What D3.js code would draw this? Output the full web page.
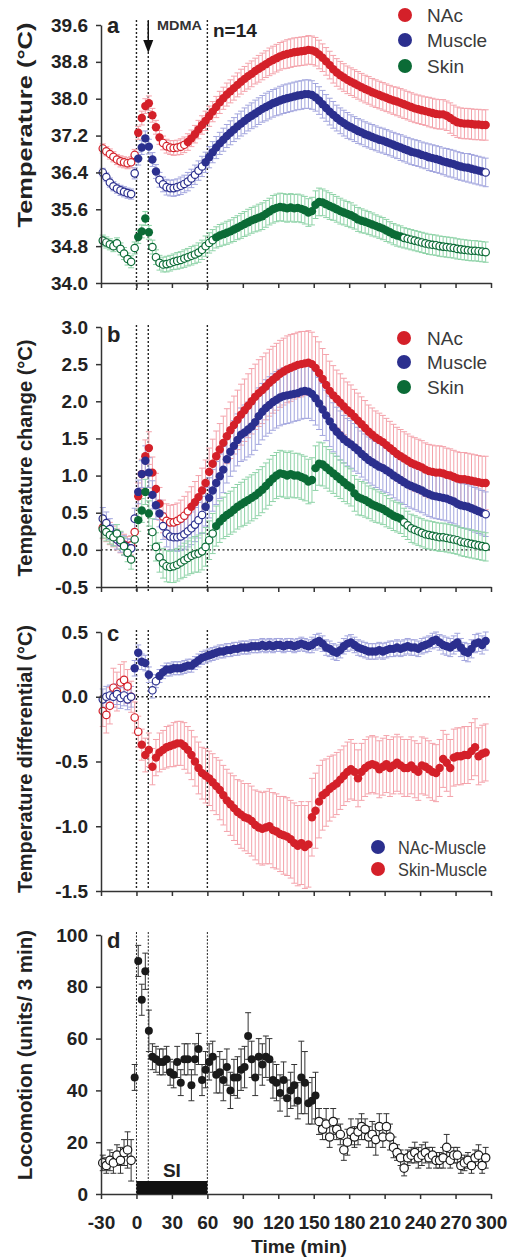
<!DOCTYPE html>
<html><head><meta charset="utf-8">
<script src="https://cdn.jsdelivr.net/npm/d3@7"></script>
<style>body{margin:0;background:#fff}svg{display:block}</style>
</head><body>
<svg id="chart" width="510" height="1258"></svg>
<script>
// ---------- DATA ----------
const time = [-28.5,-25.5,-22.5,-19.5,-16.5,-13.5,-10.5,-7.5,-4.5,-1.5,
1.5,4.5,7.5,10.5,13.5,16.5,19.5,22.5,25.5,28.5,
31.5,34.5,37.5,40.5,43.5,46.5,49.5,52.5,55.5,58.5,
61.5,64.5,67.5,70.5,73.5,76.5,79.5,82.5,85.5,88.5,
91.5,94.5,97.5,100.5,103.5,106.5,109.5,112.5,115.5,118.5,
121.5,124.5,127.5,130.5,133.5,136.5,139.5,142.5,145.5,148.5,
151.5,154.5,157.5,160.5,163.5,166.5,169.5,172.5,175.5,178.5,
181.5,184.5,187.5,190.5,193.5,196.5,199.5,202.5,205.5,208.5,
211.5,214.5,217.5,220.5,223.5,226.5,229.5,232.5,235.5,238.5,
241.5,244.5,247.5,250.5,253.5,256.5,259.5,262.5,265.5,268.5,
271.5,274.5,277.5,280.5,283.5,286.5,289.5,292.5,295.5];

const xTicks = [-30,0,30,60,90,120,150,180,210,240,270,300];
const eventTimes = [0, 10, 60];
const mdmaTime = 10;
const siPeriod = [0, 60];

// Panel a: absolute temperature
const aTicks = [34.0,34.8,35.6,36.4,37.2,38.0,38.8,39.6];
const aNAc = [36.92,36.86,36.80,36.74,36.68,36.64,36.62,36.60,36.62,36.78,
37.26,37.58,37.84,37.90,37.64,37.38,37.16,37.04,36.97,36.94,
36.93,36.94,36.96,37.00,37.06,37.14,37.23,37.33,37.43,37.52,
37.62,37.72,37.82,37.92,38.01,38.09,38.16,38.23,38.30,38.37,
38.43,38.49,38.54,38.60,38.65,38.70,38.75,38.80,38.84,38.88,
38.92,38.95,38.97,38.99,39.01,39.02,39.03,39.04,39.06,39.05,
39.02,38.96,38.89,38.81,38.73,38.64,38.57,38.51,38.46,38.41,
38.37,38.33,38.29,38.25,38.21,38.18,38.14,38.11,38.08,38.05,
38.02,37.99,37.96,37.94,37.91,37.88,37.85,37.82,37.79,37.77,
37.75,37.73,37.71,37.69,37.67,37.66,37.66,37.63,37.58,37.53,
37.49,37.47,37.46,37.46,37.45,37.44,37.44,37.43,37.43];
const aNAcErr = [0.10,0.10,0.11,0.11,0.11,0.12,0.12,0.12,0.12,0.12,
0.14,0.15,0.16,0.16,0.15,0.15,0.15,0.15,0.15,0.15,
0.16,0.16,0.17,0.17,0.18,0.18,0.19,0.20,0.20,0.21,
0.22,0.22,0.23,0.24,0.24,0.25,0.25,0.26,0.26,0.27,
0.27,0.28,0.28,0.28,0.29,0.29,0.29,0.30,0.30,0.30,
0.30,0.30,0.31,0.31,0.31,0.31,0.31,0.31,0.31,0.31,
0.31,0.31,0.30,0.30,0.30,0.30,0.30,0.30,0.30,0.30,
0.30,0.30,0.30,0.30,0.30,0.30,0.30,0.30,0.30,0.30,
0.30,0.30,0.30,0.31,0.31,0.31,0.31,0.31,0.31,0.31,
0.31,0.31,0.32,0.32,0.32,0.32,0.32,0.32,0.33,0.33,
0.33,0.33,0.33,0.33,0.33,0.33,0.33,0.33,0.33];
const aNAcFilled = [[0,21],[42,300]];

const aMuscle = [36.40,36.30,36.18,36.10,36.05,36.01,35.98,35.95,35.93,36.38,
36.70,36.94,37.14,36.96,36.68,36.42,36.24,36.14,36.08,36.06,
36.06,36.08,36.11,36.15,36.20,36.27,36.35,36.44,36.53,36.62,
36.73,36.84,36.94,37.03,37.11,37.19,37.26,37.33,37.40,37.46,
37.52,37.58,37.63,37.68,37.73,37.78,37.82,37.86,37.90,37.93,
37.96,37.99,38.01,38.03,38.05,38.07,38.08,38.10,38.10,38.08,
38.03,37.96,37.88,37.80,37.72,37.65,37.58,37.52,37.47,37.42,
37.38,37.34,37.30,37.27,37.23,37.20,37.17,37.14,37.11,37.09,
37.06,37.03,37.00,36.97,36.94,36.91,36.88,36.85,36.83,36.81,
36.78,36.76,36.73,36.71,36.69,36.67,36.64,36.62,36.60,36.58,
36.55,36.53,36.51,36.50,36.48,36.46,36.44,36.42,36.40];
const aMuscleErr = [0.09,0.09,0.10,0.10,0.10,0.11,0.11,0.11,0.11,0.12,
0.14,0.15,0.16,0.16,0.15,0.15,0.16,0.16,0.17,0.17,
0.18,0.18,0.19,0.19,0.20,0.20,0.21,0.21,0.22,0.22,
0.23,0.23,0.24,0.24,0.25,0.25,0.26,0.26,0.27,0.27,
0.28,0.28,0.28,0.29,0.29,0.29,0.30,0.30,0.30,0.30,
0.31,0.31,0.31,0.31,0.31,0.31,0.31,0.31,0.31,0.31,
0.30,0.30,0.30,0.29,0.29,0.29,0.28,0.28,0.28,0.28,
0.27,0.27,0.27,0.27,0.27,0.27,0.27,0.27,0.27,0.27,
0.27,0.27,0.27,0.27,0.28,0.28,0.28,0.28,0.28,0.28,
0.28,0.28,0.29,0.29,0.29,0.29,0.29,0.30,0.30,0.30,
0.30,0.30,0.30,0.31,0.31,0.31,0.31,0.31,0.31];
const aMuscleFilled = [[0,17],[57,294]];

const aSkin = [34.92,34.88,34.84,34.80,34.86,34.74,34.64,34.52,34.46,34.76,
35.00,35.12,35.40,35.10,34.78,34.56,34.44,34.40,34.41,34.43,
34.46,34.48,34.50,34.53,34.56,34.59,34.62,34.66,34.72,34.80,
34.87,34.93,34.99,35.03,35.06,35.09,35.12,35.16,35.20,35.24,
35.28,35.32,35.36,35.39,35.42,35.45,35.50,35.55,35.60,35.63,
35.65,35.64,35.62,35.64,35.62,35.63,35.61,35.58,35.53,35.56,
35.70,35.76,35.75,35.71,35.67,35.64,35.60,35.56,35.53,35.50,
35.47,35.43,35.38,35.35,35.33,35.30,35.27,35.24,35.21,35.18,
35.14,35.10,35.06,35.03,35.01,34.98,34.96,34.94,34.92,34.90,
34.88,34.86,34.84,34.83,34.82,34.80,34.79,34.78,34.77,34.76,
34.74,34.73,34.72,34.71,34.70,34.70,34.69,34.68,34.67];
const aSkinErr = [0.12,0.12,0.12,0.12,0.12,0.13,0.13,0.13,0.13,0.13,
0.14,0.14,0.15,0.15,0.15,0.16,0.16,0.16,0.17,0.17,
0.17,0.18,0.18,0.19,0.19,0.20,0.20,0.21,0.21,0.22,
0.22,0.23,0.23,0.24,0.24,0.25,0.25,0.26,0.26,0.27,
0.27,0.28,0.28,0.28,0.29,0.29,0.29,0.29,0.30,0.30,
0.30,0.30,0.30,0.30,0.30,0.30,0.30,0.30,0.30,0.30,
0.30,0.30,0.29,0.29,0.29,0.28,0.28,0.28,0.27,0.27,
0.27,0.26,0.26,0.26,0.25,0.25,0.25,0.24,0.24,0.24,
0.24,0.23,0.23,0.23,0.23,0.22,0.22,0.22,0.22,0.22,
0.22,0.22,0.22,0.22,0.22,0.22,0.22,0.22,0.22,0.22,
0.22,0.22,0.22,0.22,0.22,0.22,0.22,0.22,0.22];
const aSkinFilled = [[0,12],[66,225]];

// Panel b: temperature change
const bTicks = [-0.5,0.0,0.5,1.0,1.5,2.0,2.5,3.0];
const bNAc = [0.30,0.26,0.22,0.18,0.14,0.10,0.07,0.05,0.06,0.24,
0.72,1.02,1.26,1.37,1.04,0.82,0.62,0.45,0.39,0.37,
0.37,0.39,0.42,0.46,0.52,0.58,0.64,0.71,0.80,0.90,
1.05,1.16,1.26,1.35,1.44,1.53,1.61,1.68,1.75,1.82,
1.88,1.94,2.00,2.06,2.11,2.15,2.20,2.25,2.29,2.33,
2.37,2.40,2.43,2.45,2.47,2.49,2.50,2.51,2.52,2.50,
2.45,2.38,2.30,2.22,2.14,2.08,2.03,1.98,1.93,1.88,
1.84,1.79,1.74,1.69,1.64,1.59,1.55,1.51,1.48,1.45,
1.41,1.37,1.33,1.29,1.26,1.23,1.20,1.17,1.15,1.13,
1.11,1.08,1.06,1.05,1.04,1.04,1.03,1.01,1.00,0.98,
0.96,0.95,0.95,0.94,0.93,0.92,0.91,0.90,0.90];
const bNAcErr = [0.15,0.15,0.15,0.14,0.14,0.14,0.14,0.13,0.13,0.14,
0.18,0.20,0.22,0.22,0.21,0.21,0.22,0.22,0.23,0.23,
0.24,0.24,0.25,0.26,0.26,0.27,0.28,0.29,0.30,0.31,
0.32,0.33,0.34,0.35,0.36,0.37,0.38,0.39,0.40,0.41,
0.42,0.43,0.44,0.44,0.45,0.45,0.45,0.45,0.45,0.45,
0.45,0.45,0.45,0.45,0.44,0.44,0.44,0.43,0.43,0.43,
0.42,0.42,0.41,0.41,0.40,0.40,0.39,0.39,0.38,0.38,
0.38,0.37,0.37,0.37,0.37,0.36,0.36,0.36,0.36,0.36,
0.36,0.36,0.36,0.36,0.36,0.36,0.36,0.36,0.36,0.36,
0.36,0.36,0.36,0.36,0.36,0.36,0.36,0.36,0.36,0.36,
0.36,0.36,0.36,0.36,0.36,0.36,0.36,0.36,0.36];
const bNAcFilled = [[0,21],[45,300]];

const bMuscle = [0.42,0.36,0.28,0.20,0.14,0.10,0.06,0.03,0.02,0.42,
0.78,1.02,1.20,1.04,0.74,0.60,0.49,0.32,0.22,0.18,
0.17,0.17,0.18,0.21,0.25,0.29,0.34,0.40,0.47,0.58,
0.70,0.80,0.90,0.99,1.08,1.22,1.32,1.40,1.48,1.55,
1.58,1.62,1.66,1.72,1.80,1.86,1.91,1.95,1.99,2.02,
2.05,2.07,2.08,2.09,2.10,2.11,2.13,2.14,2.13,2.10,
2.04,1.97,1.89,1.81,1.73,1.65,1.59,1.54,1.49,1.45,
1.42,1.38,1.34,1.29,1.25,1.21,1.18,1.15,1.12,1.10,
1.07,1.04,1.00,0.97,0.94,0.91,0.88,0.86,0.84,0.82,
0.80,0.77,0.75,0.73,0.72,0.71,0.70,0.69,0.67,0.65,
0.62,0.60,0.59,0.58,0.56,0.54,0.52,0.50,0.48];
const bMuscleErr = [0.15,0.15,0.14,0.14,0.13,0.13,0.13,0.12,0.12,0.14,
0.16,0.18,0.20,0.20,0.19,0.19,0.18,0.18,0.18,0.18,
0.18,0.19,0.19,0.20,0.21,0.22,0.23,0.24,0.25,0.26,
0.27,0.28,0.29,0.30,0.31,0.32,0.33,0.34,0.35,0.36,
0.37,0.37,0.38,0.38,0.38,0.38,0.38,0.38,0.38,0.38,
0.38,0.38,0.38,0.38,0.37,0.37,0.37,0.37,0.36,0.36,
0.36,0.35,0.35,0.34,0.34,0.33,0.33,0.33,0.32,0.32,
0.32,0.32,0.31,0.31,0.31,0.31,0.31,0.31,0.31,0.31,
0.30,0.30,0.30,0.30,0.30,0.30,0.30,0.30,0.30,0.30,
0.30,0.30,0.30,0.30,0.30,0.30,0.30,0.30,0.30,0.30,
0.30,0.30,0.30,0.30,0.30,0.30,0.30,0.30,0.30];
const bMuscleFilled = [[0,21],[57,294]];

const bSkin = [0.28,0.24,0.20,0.17,0.22,0.13,0.05,-0.04,-0.13,0.14,
0.40,0.53,0.78,0.49,0.24,0.04,-0.10,-0.18,-0.22,-0.23,
-0.22,-0.20,-0.17,-0.14,-0.11,-0.08,-0.06,-0.05,-0.02,0.04,
0.13,0.22,0.32,0.38,0.43,0.47,0.50,0.54,0.58,0.61,
0.64,0.67,0.70,0.73,0.77,0.81,0.86,0.91,0.96,1.00,
1.03,1.02,1.00,1.02,1.00,1.00,0.98,0.96,0.92,0.94,
1.10,1.16,1.15,1.11,1.07,1.03,0.99,0.95,0.91,0.87,
0.84,0.76,0.71,0.69,0.67,0.64,0.61,0.59,0.57,0.55,
0.52,0.49,0.46,0.44,0.42,0.37,0.33,0.29,0.27,0.25,
0.23,0.21,0.20,0.19,0.18,0.17,0.17,0.16,0.15,0.14,
0.13,0.11,0.10,0.09,0.08,0.07,0.06,0.05,0.04];
const bSkinErr = [0.12,0.12,0.12,0.12,0.12,0.12,0.12,0.12,0.13,0.13,
0.15,0.16,0.17,0.17,0.18,0.19,0.20,0.20,0.21,0.21,
0.22,0.22,0.22,0.23,0.23,0.24,0.24,0.25,0.25,0.26,
0.26,0.27,0.27,0.28,0.28,0.29,0.29,0.30,0.30,0.30,
0.31,0.31,0.31,0.31,0.31,0.31,0.31,0.31,0.31,0.31,
0.31,0.31,0.31,0.31,0.30,0.30,0.30,0.30,0.30,0.30,
0.30,0.29,0.29,0.28,0.28,0.27,0.27,0.26,0.26,0.25,
0.25,0.24,0.24,0.23,0.23,0.22,0.22,0.22,0.21,0.21,
0.21,0.20,0.20,0.20,0.20,0.19,0.19,0.19,0.19,0.19,
0.19,0.19,0.19,0.19,0.19,0.19,0.19,0.19,0.19,0.19,
0.19,0.19,0.19,0.19,0.19,0.19,0.19,0.19,0.19];
const bSkinFilled = [[0,12],[66,225]];

// Panel c: temperature differentials
const cTicks = [-1.5,-1.0,-0.5,0.0,0.5];
const cNAcMuscle = [-0.02,0.00,0.01,0.00,0.02,-0.01,0.01,-0.02,0.00,0.22,
0.34,0.27,0.26,0.17,0.05,0.12,0.16,0.19,0.21,0.21,
0.22,0.22,0.22,0.23,0.24,0.24,0.26,0.28,0.30,0.31,
0.32,0.33,0.34,0.35,0.35,0.36,0.36,0.37,0.37,0.38,
0.38,0.38,0.39,0.39,0.39,0.40,0.39,0.40,0.39,0.40,
0.40,0.39,0.40,0.40,0.39,0.40,0.41,0.40,0.39,0.40,
0.42,0.43,0.41,0.38,0.37,0.35,0.34,0.36,0.39,0.41,
0.42,0.40,0.38,0.37,0.36,0.35,0.35,0.35,0.36,0.35,
0.36,0.37,0.37,0.38,0.37,0.38,0.39,0.38,0.38,0.37,
0.39,0.40,0.41,0.43,0.44,0.42,0.40,0.39,0.38,0.40,
0.42,0.38,0.35,0.34,0.37,0.41,0.42,0.40,0.43];
const cNAcMuscleErr = [0.08,0.08,0.08,0.08,0.08,0.08,0.08,0.08,0.08,0.06,
0.06,0.06,0.06,0.06,0.06,0.05,0.05,0.05,0.05,0.05,
0.05,0.05,0.05,0.05,0.05,0.05,0.05,0.05,0.05,0.05,
0.05,0.05,0.05,0.05,0.05,0.05,0.05,0.05,0.05,0.05,
0.05,0.05,0.05,0.05,0.05,0.05,0.05,0.05,0.05,0.05,
0.05,0.05,0.05,0.05,0.05,0.05,0.05,0.05,0.05,0.06,
0.06,0.06,0.06,0.06,0.06,0.06,0.06,0.06,0.06,0.06,
0.06,0.06,0.06,0.06,0.06,0.06,0.06,0.06,0.06,0.06,
0.06,0.06,0.06,0.06,0.06,0.06,0.06,0.06,0.06,0.06,
0.06,0.06,0.06,0.06,0.06,0.06,0.07,0.07,0.07,0.07,
0.07,0.07,0.07,0.07,0.07,0.07,0.07,0.07,0.07];
const cNAcMuscleFilled = [[-3,12],[18,300]];

const cSkinMuscle = [-0.11,-0.14,-0.07,0.07,0.04,0.11,0.13,0.08,0.00,-0.16,
-0.27,-0.37,-0.45,-0.41,-0.54,-0.47,-0.43,-0.41,-0.39,-0.38,
-0.37,-0.36,-0.36,-0.38,-0.41,-0.45,-0.50,-0.55,-0.59,-0.61,
-0.63,-0.66,-0.69,-0.72,-0.76,-0.80,-0.83,-0.86,-0.89,-0.91,
-0.93,-0.94,-0.96,-0.99,-1.01,-1.02,-1.01,-1.00,-1.03,-1.04,
-1.06,-1.07,-1.08,-1.10,-1.13,-1.15,-1.13,-1.16,-1.14,-0.93,
-0.88,-0.81,-0.76,-0.74,-0.71,-0.69,-0.67,-0.64,-0.61,-0.58,
-0.56,-0.58,-0.63,-0.58,-0.55,-0.53,-0.52,-0.53,-0.56,-0.54,
-0.52,-0.55,-0.53,-0.51,-0.53,-0.55,-0.55,-0.53,-0.56,-0.58,
-0.53,-0.54,-0.56,-0.58,-0.59,-0.55,-0.48,-0.51,-0.55,-0.47,
-0.46,-0.46,-0.45,-0.45,-0.42,-0.39,-0.46,-0.44,-0.43];
const cSkinMuscleErr = [0.12,0.14,0.14,0.15,0.15,0.14,0.14,0.13,0.12,0.12,
0.12,0.12,0.13,0.13,0.14,0.14,0.15,0.15,0.16,0.16,
0.17,0.17,0.17,0.18,0.18,0.19,0.19,0.20,0.20,0.21,
0.21,0.22,0.22,0.23,0.23,0.24,0.24,0.25,0.25,0.26,
0.26,0.27,0.27,0.27,0.28,0.28,0.28,0.29,0.29,0.29,
0.29,0.30,0.30,0.30,0.31,0.31,0.32,0.32,0.33,0.30,
0.29,0.28,0.27,0.26,0.25,0.24,0.24,0.23,0.23,0.23,
0.23,0.22,0.22,0.22,0.22,0.22,0.22,0.22,0.22,0.22,
0.22,0.22,0.22,0.22,0.22,0.22,0.22,0.22,0.22,0.22,
0.22,0.22,0.22,0.22,0.22,0.22,0.22,0.22,0.22,0.22,
0.22,0.22,0.22,0.22,0.22,0.22,0.22,0.22,0.22];
const cSkinMuscleFilled = [[3,300]];

// Panel d: locomotion (units / 3 min)
const dTicks = [0,20,40,60,80,100];
const loco = [12,11,13,12,15,13,16,17,13,45,
90,75,86,63,53,52,51,51,52,47,
46,51,43,52,52,42,52,56,44,48,
51,53,46,47,44,49,40,45,45,48,
49,61,52,45,53,50,53,52,44,43,
39,44,37,40,42,36,45,43,35,36,
38,28,25,27,22,28,25,23,17,20,
24,22,24,26,25,22,23,21,26,22,
26,22,18,16,14,10,14,15,16,14,
15,16,14,15,13,13,14,18,13,15,
15,11,12,13,11,14,15,11,14];
const locoErr = [3,3,4,4,4,5,5,7,8,5,
6,6,7,8,5,5,5,5,5,5,
5,6,5,6,6,6,6,6,6,7,
7,6,7,8,8,7,7,7,8,8,
8,9,7,7,7,8,8,8,7,7,
7,7,7,7,8,7,14,12,8,9,
9,5,4,6,4,5,4,4,4,5,
5,4,5,5,4,4,5,6,5,4,
5,5,4,3,3,3,3,3,4,4,
4,4,4,3,3,3,4,5,3,3,
3,3,3,3,3,3,4,3,4];
const locoFilled = [[-3,153]];

// ---------- STYLE ----------
const RED = "#d42029", RED_L = "#f4a3ab";
const BLUE = "#2b2f8e", BLUE_L = "#a3a6de";
const GREEN = "#0b6b36", GREEN_L = "#8fd3a8";
const BLACK = "#1a1a1a", BLACK_L = "#333";
const FONT = "'Liberation Sans', Arial, Helvetica, sans-serif";

// hyphen-minus like the original figure
const f1 = v => d3.format(".1f")(v).replace("\u2212", "-");
const f0 = v => String(v);

const svg = d3.select("#chart");
const x = d3.scaleLinear().domain([-30, 300]).range([101, 491]);

const panels = [
  { label: "a", domain: [34, 39.6], range: [283, 25], ticks: aTicks, fmt: f1,
    title: "Temperature (°C)", titleY: 125, titleLen: 205, titleSize: 21, labelY: 33,
    vline: [20, 292], zero: false,
    series: [
      { v: aNAc, e: aNAcErr, f: aNAcFilled, c: RED, cl: RED_L },
      { v: aMuscle, e: aMuscleErr, f: aMuscleFilled, c: BLUE, cl: BLUE_L },
      { v: aSkin, e: aSkinErr, f: aSkinFilled, c: GREEN, cl: GREEN_L } ],
    legend: { cx: 405, cy: [15, 40, 66], tx: 427, names: ["NAc", "Muscle", "Skin"], cols: [RED, BLUE, GREEN], size: 19 } },
  { label: "b", domain: [-0.5, 3.0], range: [587, 327], ticks: bTicks, fmt: f1,
    title: "Temperature change (°C)", titleY: 458, titleLen: 237, titleSize: 20, labelY: 342,
    vline: [325, 592], zero: true,
    series: [
      { v: bNAc, e: bNAcErr, f: bNAcFilled, c: RED, cl: RED_L },
      { v: bMuscle, e: bMuscleErr, f: bMuscleFilled, c: BLUE, cl: BLUE_L },
      { v: bSkin, e: bSkinErr, f: bSkinFilled, c: GREEN, cl: GREEN_L } ],
    legend: { cx: 404, cy: [338, 362, 387], tx: 427, names: ["NAc", "Muscle", "Skin"], cols: [RED, BLUE, GREEN], size: 19 } },
  { label: "c", domain: [-1.5, 0.5], range: [891, 632], ticks: cTicks, fmt: f1,
    title: "Temperature differential (°C)", titleY: 759, titleLen: 268, titleSize: 20, labelY: 641,
    vline: [630, 888], zero: true,
    series: [
      { v: cSkinMuscle, e: cSkinMuscleErr, f: cSkinMuscleFilled, c: RED, cl: RED_L },
      { v: cNAcMuscle, e: cNAcMuscleErr, f: cNAcMuscleFilled, c: BLUE, cl: BLUE_L } ],
    legend: { cx: 378, cy: [847, 869], tx: 398, names: ["NAc-Muscle", "Skin-Muscle"], cols: [BLUE, RED], size: 18, lens: [88, 89] } },
  { label: "d", domain: [0, 100], range: [1194, 935], ticks: dTicks, fmt: f0,
    title: "Locomotion (units/ 3 min)", titleY: 1055, titleLen: 250, titleSize: 20, labelY: 948,
    vline: [932, 1194], zero: false, loco: true,
    series: [ { v: loco, e: locoErr, f: locoFilled, c: BLACK, cl: BLACK_L } ] }
];

const isFilled = (t, ranges) => ranges.some(([a, b]) => t >= a && t <= b);

panels.forEach(p => {
  const y = d3.scaleLinear().domain(p.domain).range(p.range);
  const g = svg.append("g");

  // event lines
  eventTimes.forEach(t => {
    g.append("line").attr("x1", x(t)).attr("x2", x(t))
      .attr("y1", p.vline[0]).attr("y2", p.vline[1])
      .attr("stroke", "#222").attr("stroke-width", p.loco ? 1 : 1.4)
      .attr("stroke-dasharray", p.loco ? "2,1.5" : "2,2");
  });
  if (p.zero) {
    g.append("line").attr("x1", x(-30)).attr("x2", x(300))
      .attr("y1", y(0)).attr("y2", y(0))
      .attr("stroke", "#222").attr("stroke-width", 1.4).attr("stroke-dasharray", "2,2.5");
  }

  // error bars
  const cap = 3;
  p.series.forEach(s => {
    const eg = g.append("g").attr("stroke", s.cl).attr("stroke-width", 1).attr("fill", "none");
    time.forEach((t, i) => {
      const cx = x(t), y1 = y(s.v[i] - s.e[i]), y2 = y(s.v[i] + s.e[i]);
      eg.append("line").attr("x1", cx).attr("x2", cx).attr("y1", y1).attr("y2", y2);
      eg.append("line").attr("x1", cx - cap).attr("x2", cx + cap).attr("y1", y1).attr("y2", y1);
      eg.append("line").attr("x1", cx - cap).attr("x2", cx + cap).attr("y1", y2).attr("y2", y2);
    });
  });

  // points
  p.series.forEach(s => {
    g.append("g").selectAll("circle").data(time).join("circle")
      .attr("cx", t => x(t)).attr("cy", (t, i) => y(s.v[i]))
      .attr("r", t => isFilled(t, s.f) ? (p.loco ? 4 : 4.2) : (p.loco ? 4.2 : 3.7))
      .attr("fill", t => isFilled(t, s.f) ? s.c : "#fff")
      .attr("stroke", s.c)
      .attr("stroke-width", t => isFilled(t, s.f) ? 0 : 1.2);
  });

  // axes
  const ya = g.append("g").attr("transform", `translate(${x(-30)},0)`)
    .call(d3.axisLeft(y).tickValues(p.ticks).tickFormat(p.fmt).tickSize(5).tickSizeOuter(0).tickPadding(8));
  const xa = g.append("g").attr("transform", `translate(0,${p.range[0]})`)
    .call(d3.axisBottom(x).tickValues(xTicks).tickFormat(p.loco ? f0 : "").tickSize(5).tickSizeOuter(0).tickPadding(17));
  [ya, xa].forEach(a => {
    a.select(".domain").attr("stroke", "#333").attr("stroke-width", 1.5);
    a.selectAll(".tick line").attr("stroke", "#333").attr("stroke-width", 1.5);
    a.selectAll("text").attr("font-family", FONT).attr("font-weight", "bold")
      .attr("font-size", 19).attr("fill", "#222");
  });

  // y title
  g.append("text").attr("transform", `translate(32,${p.titleY}) rotate(-90)`)
    .attr("text-anchor", "middle").attr("font-family", FONT).attr("font-weight", "bold")
    .attr("font-size", p.titleSize).attr("fill", "#222")
    .attr("textLength", p.titleLen).attr("lengthAdjust", "spacingAndGlyphs")
    .text(p.title);

  // panel label
  g.append("text").attr("x", 107).attr("y", p.labelY).attr("font-family", FONT)
    .attr("font-weight", "bold").attr("font-size", 22).attr("fill", "#222").text(p.label);

  // legend
  if (p.legend) {
    const L = p.legend;
    L.names.forEach((n, k) => {
      g.append("circle").attr("cx", L.cx).attr("cy", L.cy[k]).attr("r", 7).attr("fill", L.cols[k]);
      const tx = g.append("text").attr("x", L.tx).attr("y", L.cy[k] + 7)
        .attr("font-family", FONT).attr("font-size", L.size).attr("fill", "#3a3a3a").text(n);
      if (L.lens) tx.attr("textLength", L.lens[k]).attr("lengthAdjust", "spacingAndGlyphs");
    });
  }

  if (p.loco) {
    g.append("rect").attr("x", x(siPeriod[0])).attr("width", x(siPeriod[1]) - x(siPeriod[0]))
      .attr("y", y(0) - 13).attr("height", 13).attr("fill", "#111");
    g.append("text").attr("x", x((siPeriod[0] + siPeriod[1]) / 2)).attr("y", 1177)
      .attr("text-anchor", "middle").attr("font-family", FONT).attr("font-weight", "bold")
      .attr("font-size", 19).attr("fill", "#222").text("SI");
    g.append("text").attr("x", 299).attr("y", 1253).attr("text-anchor", "middle")
      .attr("font-family", FONT).attr("font-weight", "bold").attr("font-size", 19)
      .attr("fill", "#222").text("Time (min)");
  }
});

// MDMA arrow and annotations (panel a)
const ax = x(mdmaTime);
svg.append("line").attr("x1", ax).attr("x2", ax).attr("y1", 21).attr("y2", 42)
  .attr("stroke", "#111").attr("stroke-width", 1.5);
svg.append("path").attr("d", `M${ax - 5},40 L${ax + 5},40 L${ax},53 Z`).attr("fill", "#111");
svg.append("text").attr("x", 157).attr("y", 30).attr("font-family", FONT).attr("font-weight", "bold")
  .attr("font-size", 12).attr("fill", "#333").attr("textLength", 45).attr("lengthAdjust", "spacingAndGlyphs")
  .text("MDMA");
svg.append("text").attr("x", 213).attr("y", 37).attr("font-family", FONT).attr("font-weight", "bold")
  .attr("font-size", 19).attr("fill", "#222").text("n=14");
</script>
</body></html>
